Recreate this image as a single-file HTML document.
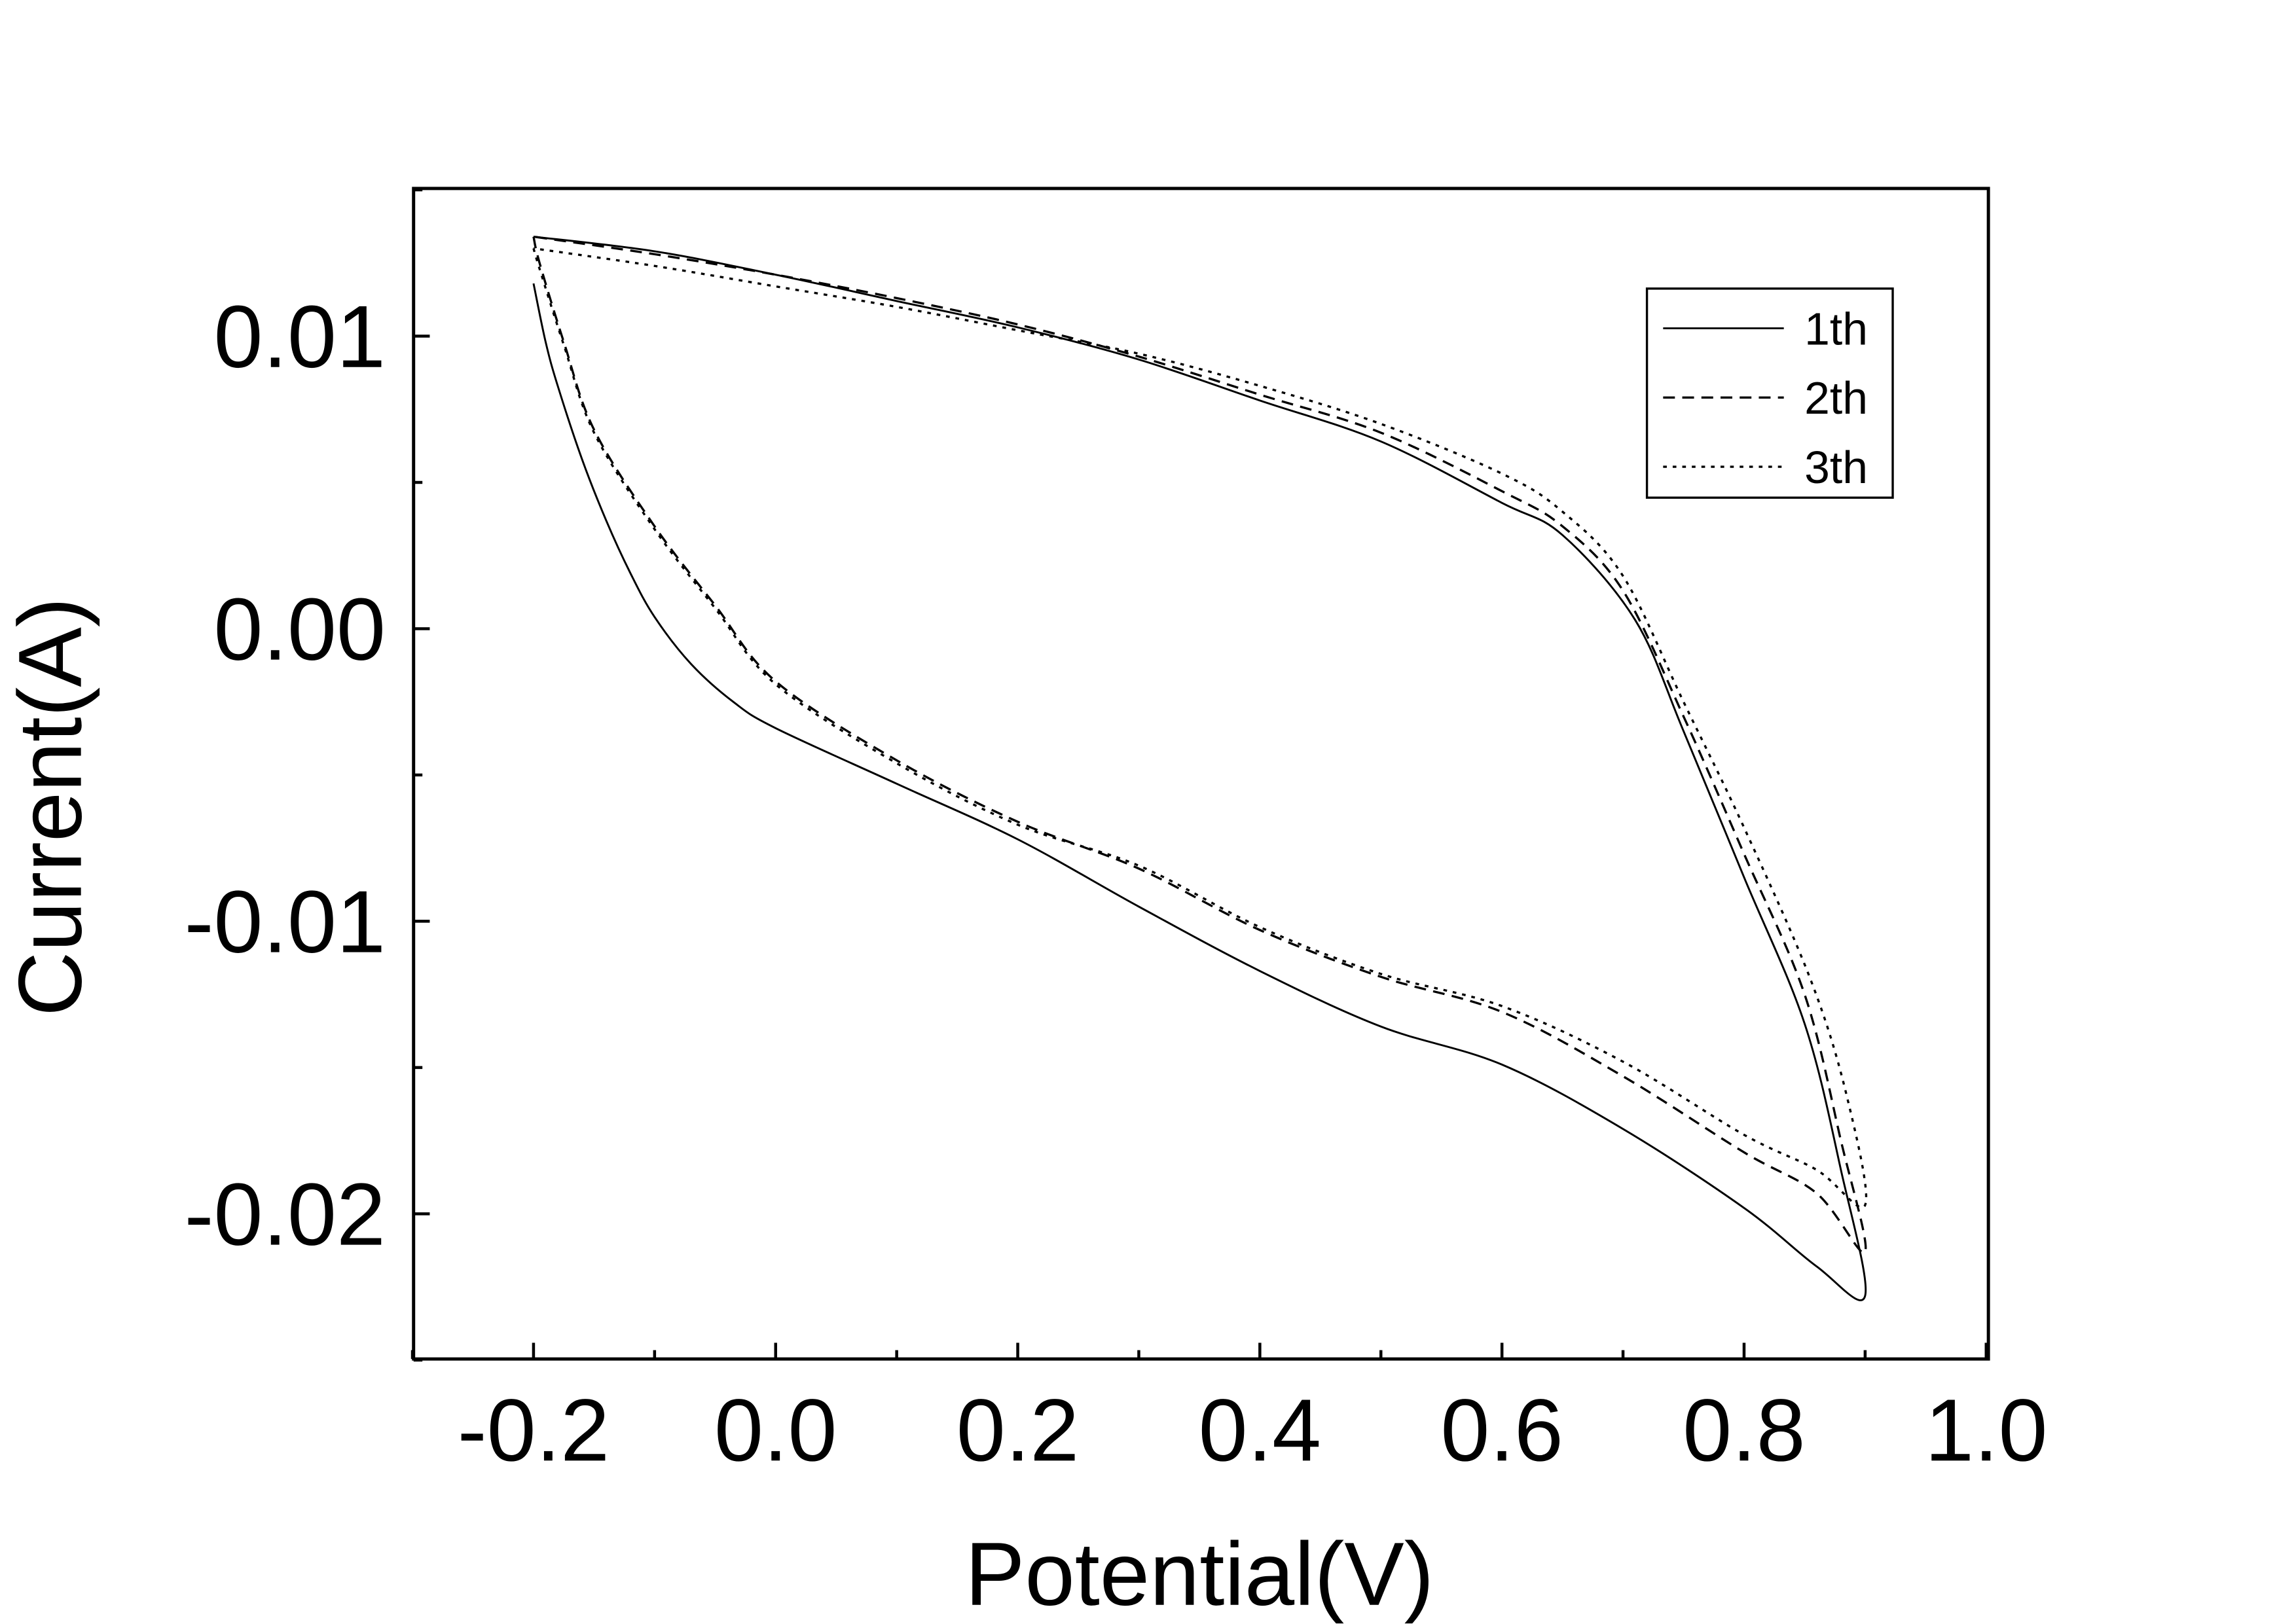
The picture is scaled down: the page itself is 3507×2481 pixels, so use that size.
<!DOCTYPE html>
<html><head><meta charset="utf-8"><style>
html,body{margin:0;padding:0;background:#fff}
svg{display:block}
text{font-family:"Liberation Sans",Arial,sans-serif;fill:#000}
</style></head><body>
<svg id="s" width="3507" height="2481" viewBox="0 0 1560 1103" preserveAspectRatio="none" xmlns="http://www.w3.org/2000/svg">
<rect x="0" y="0" width="1560" height="1103" fill="#fff"/>
<g id="curves" fill="none" stroke="#000" stroke-width="1.3"></g>
<rect x="281" y="128" width="1070" height="795" fill="none" stroke="#000" stroke-width="2.2"/>
<g id="ticks" stroke="#000" stroke-width="2"></g>
<g id="labels" font-size="60"></g>
<text x="815" y="1090" font-size="61" text-anchor="middle">Potential(V)</text>
<text transform="translate(55,548) rotate(-90)" font-size="61" text-anchor="middle">Current(A)</text>
<rect x="1119" y="196" width="167" height="142" fill="#fff" stroke="#000" stroke-width="1.5"/>
<line x1="1130" y1="223" x2="1212" y2="223" stroke="#000" stroke-width="1.3"/>
<line x1="1130" y1="270" x2="1212" y2="270" stroke="#000" stroke-width="1.5" stroke-dasharray="8,5"/>
<line x1="1130" y1="317" x2="1212" y2="317" stroke="#000" stroke-width="1.5" stroke-dasharray="2.5,4"/>
<text x="1226" y="234" font-size="31">1th</text>
<text x="1226" y="281" font-size="31">2th</text>
<text x="1226" y="328" font-size="31">3th</text>
</svg>
<script>
const X=v=>527+(v/0.2)*164.5, Y=v=>427-(v/0.01)*198.7;
const ns="http://www.w3.org/2000/svg";
function el(p,t,a){const e=document.createElementNS(ns,t);for(const k in a)e.setAttribute(k,a[k]);p.appendChild(e);return e;}
const tk=document.getElementById('ticks'),lb=document.getElementById('labels');
for(let i=-3;i<=10;i++){const x=X(i*0.1);const major=(i%2===0);el(tk,'line',{x1:x,y1:923,x2:x,y2:923-(major?11:6)});
 if(major){const t=el(lb,'text',{x:x,y:992,'text-anchor':'middle'});t.textContent=(i/10).toFixed(1);}}
for(let i=-5;i<=3;i++){const y=Y(i*0.005);const major=(i%2===0);el(tk,'line',{x1:281,y1:y,x2:281+(major?11:6),y2:y});
 if(major){const t=el(lb,'text',{x:262,y:y+21,'text-anchor':'end'});t.textContent=(i*0.005).toFixed(2);}}
function path(pts){const p=pts.map(q=>[X(q[0]),Y(q[1])]);let d='M'+p[0][0]+','+p[0][1];
 for(let i=0;i<p.length-1;i++){const p0=p[Math.max(0,i-1)],p1=p[i],p2=p[i+1],p3=p[Math.min(p.length-1,i+2)];
 d+=' C'+(p1[0]+(p2[0]-p0[0])/6)+','+(p1[1]+(p2[1]-p0[1])/6)+' '+(p2[0]-(p3[0]-p1[0])/6)+','+(p2[1]-(p3[1]-p1[1])/6)+' '+p2[0]+','+p2[1];}
 return d;}
const c=document.getElementById('curves');
const c1=[[-0.2,0.0118],[-0.19,0.0098],[-0.18,0.0083],[-0.16,0.0058],[-0.14,0.0037],[-0.12,0.0019],[-0.1,0.0004],[-0.07,-0.0012],[-0.035,-0.0025],[0,-0.0034],[0.1,-0.0053],[0.2,-0.0072],[0.3,-0.0095],[0.4,-0.0117],[0.5,-0.0136],[0.6,-0.0149],[0.7,-0.0171],[0.8,-0.0198],[0.86,-0.0218],[0.9,-0.0228],[0.88,-0.0185],[0.85,-0.0135],[0.8,-0.0085],[0.75,-0.0035],[0.71,0.0003],[0.65,0.0032],[0.6,0.0043],[0.5,0.0064],[0.4,0.0078],[0.3,0.0092],[0.2,0.0103],[0.1,0.0112],[0,0.0121],[-0.1,0.0129],[-0.2,0.0134]];
const c2=[[-0.2,0.0134],[-0.195,0.0125],[-0.175,0.0098],[-0.15,0.0068],[-0.1,0.0035],[-0.05,0.0008],[0,-0.0018],[0.1,-0.0045],[0.2,-0.0066],[0.3,-0.0082],[0.4,-0.0103],[0.5,-0.0119],[0.6,-0.0131],[0.7,-0.0153],[0.8,-0.0179],[0.86,-0.0193],[0.9,-0.0213],[0.88,-0.0175],[0.85,-0.0125],[0.8,-0.0077],[0.75,-0.003],[0.7,0.0013],[0.65,0.0035],[0.6,0.0047],[0.5,0.0067],[0.4,0.008],[0.3,0.0093],[0.2,0.0104],[0.1,0.0113],[0,0.0121],[-0.1,0.0128],[-0.2,0.0134]];
const c3=[[-0.2,0.013],[-0.195,0.0123],[-0.175,0.0097],[-0.15,0.0067],[-0.1,0.0034],[-0.05,0.0007],[0,-0.0019],[0.1,-0.0046],[0.2,-0.0067],[0.3,-0.0081],[0.4,-0.0102],[0.5,-0.0118],[0.6,-0.0129],[0.7,-0.0148],[0.8,-0.0173],[0.86,-0.0185],[0.9,-0.0197],[0.885,-0.016],[0.855,-0.012],[0.8,-0.0068],[0.75,-0.0025],[0.7,0.0018],[0.65,0.004],[0.6,0.0053],[0.5,0.007],[0.4,0.0083],[0.3,0.0094],[0.2,0.0102],[0.1,0.011],[0,0.0117],[-0.1,0.0124],[-0.2,0.013]];
el(c,'path',{d:path(c1)});
el(c,'path',{d:path(c2),'stroke-dasharray':'8,5','stroke-width':1.5});
el(c,'path',{d:path(c3),'stroke-dasharray':'2.5,4','stroke-width':1.5});
</script>
</body></html>
